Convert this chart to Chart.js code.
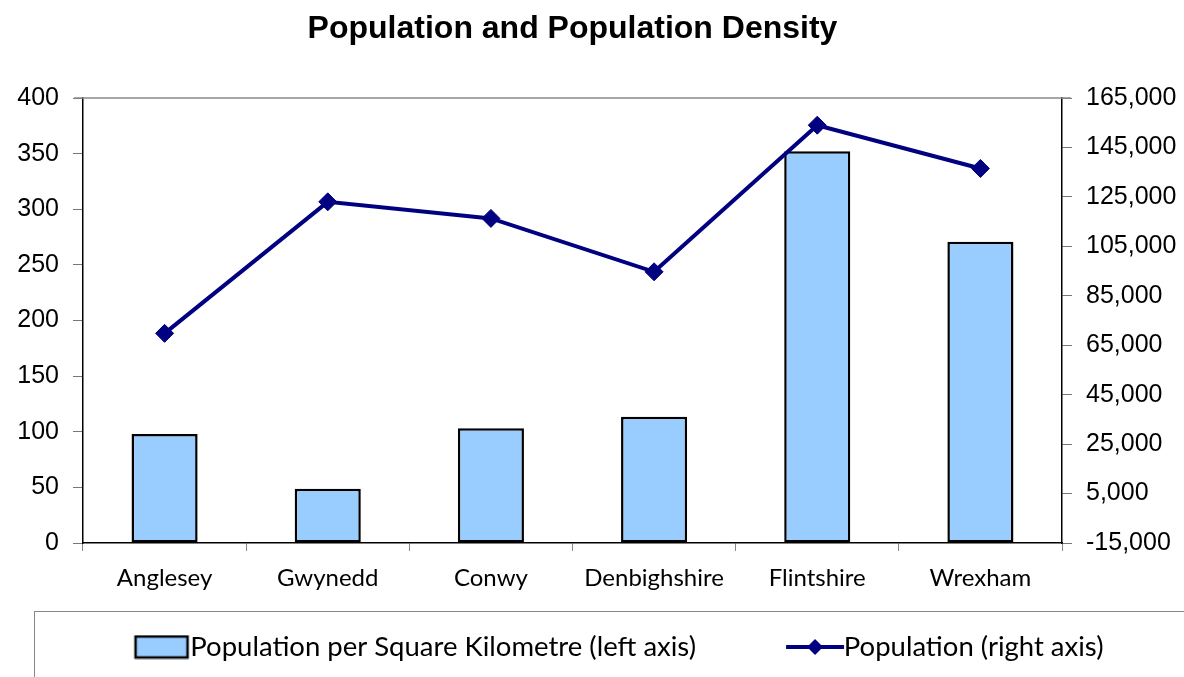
<!DOCTYPE html>
<html>
<head>
<meta charset="utf-8">
<title>Population and Population Density</title>
<script src="https://cdn.jsdelivr.net/npm/chart.js@4.4.1/dist/chart.umd.min.js"></script>
<style>
  html, body { margin: 0; padding: 0; background: #fff; }
  #wrap { width: 1184px; height: 677px; }
</style>
</head>
<body>
<div id="wrap"><canvas id="popChart" width="1184" height="677"></canvas></div>
<script>
// --- data ---
const districts = ['Anglesey', 'Gwynedd', 'Conwy', 'Denbighshire', 'Flintshire', 'Wrexham'];
const densityPerKm2 = [98, 48.7, 103.2, 113.4, 352.2, 270.7];
const population = [69800, 123000, 116300, 94700, 154000, 136500];

// axis ranges
const leftAxis = { min: 0, max: 400, step: 50 };
const rightAxis = { min: -15000, max: 165000, step: 20000 };

const barLabel = 'Population per Square Kilometre (left axis)';
const lineLabel = 'Population (right axis)';

const BAR_FILL = '#99CCFF';
const LINE_BLUE = '#000080';

// legend glyphs: drawn right of the canvas centre so they sit close to their text
const GLYPH_W = 200;
const GLYPH_CX = 133;

function barGlyph() {
    const c = document.createElement('canvas');
    c.width = GLYPH_W; c.height = 25;
    const g = c.getContext('2d');
    g.fillStyle = BAR_FILL;
    g.fillRect(GLYPH_CX - 26, 2, 52, 21);
    g.strokeStyle = '#000';
    g.lineWidth = 2.5;
    g.strokeRect(GLYPH_CX - 26, 2, 52, 21);
    return c;
}

function lineGlyph() {
    const c = document.createElement('canvas');
    c.width = GLYPH_W; c.height = 22;
    const g = c.getContext('2d');
    g.strokeStyle = LINE_BLUE;
    g.lineWidth = 4;
    g.beginPath();
    g.moveTo(GLYPH_CX - 29, 11); g.lineTo(GLYPH_CX + 29, 11);
    g.stroke();
    g.fillStyle = LINE_BLUE;
    g.beginPath();
    g.moveTo(GLYPH_CX, 3); g.lineTo(GLYPH_CX + 8, 11); g.lineTo(GLYPH_CX, 19); g.lineTo(GLYPH_CX - 8, 11);
    g.closePath();
    g.fill();
    return c;
}

// top border of the plot + the legend frame
const framePlugin = {
    id: 'frame',
    afterDraw(chart) {
        const { ctx, chartArea, legend } = chart;
        ctx.save();
        ctx.strokeStyle = '#888';
        ctx.lineWidth = 1.5;
        ctx.beginPath();
        ctx.moveTo(chartArea.left - 9, chartArea.top);
        ctx.lineTo(chartArea.right + 9, chartArea.top);
        ctx.stroke();
        ctx.lineWidth = 1;
        ctx.strokeRect(legend.left + 34.5, Math.round(legend.top) + 16.5, 1200, 200);
        ctx.restore();
    }
};

const ctx = document.getElementById('popChart').getContext('2d');
const popChart = new Chart(ctx, {
    type: 'bar',
    data: {
        labels: districts,
        datasets: [{
            type: 'bar',
            label: barLabel,
            data: densityPerKm2,
            yAxisID: 'y',
            backgroundColor: BAR_FILL,
            borderColor: '#000',
            borderWidth: 2.5,
            borderSkipped: false,
            barPercentage: 0.405,
            categoryPercentage: 1,
            order: 1
        }, {
            type: 'line',
            label: lineLabel,
            data: population,
            yAxisID: 'y2',
            borderColor: LINE_BLUE,
            borderWidth: 4,
            tension: 0,
            pointStyle: 'rectRot',
            pointRadius: 9,
            pointBackgroundColor: LINE_BLUE,
            pointBorderColor: LINE_BLUE,
            pointBorderWidth: 1,
            order: 0
        }]
    },
    options: {
        responsive: false,
        animation: false,
        devicePixelRatio: 1,
        layout: { padding: { left: 0, right: 0, top: 0, bottom: 6.25 } },
        plugins: {
            tooltip: { enabled: false },
            title: {
                display: true,
                text: 'Population and Population Density',
                fullSize: false,
                color: '#000',
                font: { family: '"Liberation Sans", Arial, sans-serif', size: 32, weight: 'bold' },
                padding: { top: 10, bottom: 49.6 }
            },
            legend: {
                position: 'bottom',
                labels: {
                    color: '#000',
                    font: { family: 'Lato, "Open Sans", sans-serif', size: 27.5 },
                    usePointStyle: true,
                    pointStyleWidth: 96,
                    padding: 38,
                    generateLabels(chart) {
                        return [
                            { text: barLabel, datasetIndex: 0, pointStyle: barGlyph(), fontColor: '#000', hidden: false, lineWidth: 0 },
                            { text: lineLabel, datasetIndex: 1, pointStyle: lineGlyph(), fontColor: '#000', hidden: false, lineWidth: 0 }
                        ];
                    }
                }
            }
        },
        scales: {
            x: {
                offset: true,
                afterFit(scale) { scale.height = 52.25; },
                grid: { offset: true, drawOnChartArea: false, tickLength: 8, color: '#888' },
                border: { color: '#000', width: 1.5 },
                ticks: {
                    color: '#000',
                    padding: 13,
                    font: { family: 'Lato, "Open Sans", sans-serif', size: 24 }
                }
            },
            y: {
                position: 'left',
                min: leftAxis.min,
                max: leftAxis.max,
                afterFit(scale) { scale.width = 83; },
                grid: { drawOnChartArea: false, tickLength: 10, color: '#777' },
                border: { color: '#000', width: 1.5 },
                ticks: {
                    stepSize: leftAxis.step,
                    color: '#000',
                    padding: 14,
                    font: { family: '"Liberation Sans", Arial, sans-serif', size: 25 }
                }
            },
            y2: {
                position: 'right',
                min: rightAxis.min,
                max: rightAxis.max,
                afterFit(scale) { scale.width = 122; },
                grid: { drawOnChartArea: false, tickLength: 10, color: '#777' },
                border: { color: '#000', width: 1.5 },
                ticks: {
                    stepSize: rightAxis.step,
                    color: '#000',
                    padding: 14,
                    font: { family: '"Liberation Sans", Arial, sans-serif', size: 25 },
                    callback: (v) => v.toLocaleString('en-US')
                }
            }
        }
    },
    plugins: [framePlugin]
});
</script>
</body>
</html>
